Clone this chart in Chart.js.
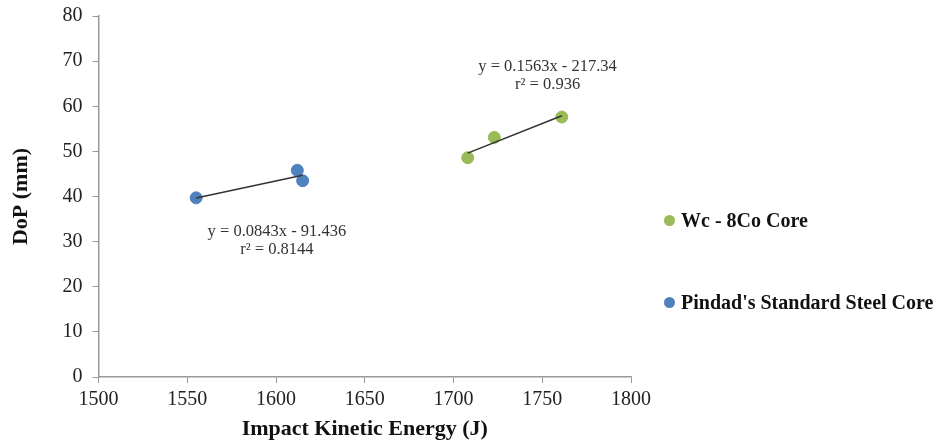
<!DOCTYPE html>
<html>
<head>
<meta charset="utf-8">
<script src="https://cdn.jsdelivr.net/npm/chart.js@4.4.1/dist/chart.umd.min.js"></script>
<style>
    body { margin: 0; background: #fff; }
    #wrap { position: relative; width: 941px; height: 445px; }
    #legenda { position: absolute; left: 664px; top: 0; font-family: "Liberation Serif", serif; font-weight: bold; font-size: 20px; color: #111; }
    #legenda div { position: absolute; white-space: nowrap; display: flex; align-items: center; }
    #legenda span.ponto { display: inline-block; width: 11px; height: 11px; border-radius: 50%; margin-right: 6px; }
</style>
</head>
<body>
<div id="wrap">
    <canvas id="graficoDoP" width="941" height="445"></canvas>
    <div id="legenda"></div>
</div>
<script>
// Dados
const energiaWc = [1708, 1723, 1761];
const dopWc = [48.6, 53.1, 57.6];
const energiaAco = [1555, 1612, 1615];
const dopAco = [39.7, 45.8, 43.5];

// Linhas de tendência (inclinação, intercepto) e textos
const tendenciaWc = [0.1563, -217.34];
const tendenciaAco = [0.0843, -91.436];
const textoWc = ["y = 0.1563x - 217.34", "r² = 0.936"];
const textoAco = ["y = 0.0843x - 91.436", "r² = 0.8144"];
const posTextoWc = [1753, 68.8];
const posTextoAco = [1600.5, 32.3];

const nomes = ["Wc - 8Co Core", "Pindad's Standard Steel Core"];
const cores = ["#9BBB59", "#4F81BD"];

const ticksX = [1500, 1550, 1600, 1650, 1700, 1750, 1800];

function pontos(xs, ys) {
    return xs.map((x, i) => ({ x: x, y: ys[i] }));
}

// Reta de tendência entre o menor e o maior x da série
function linhaTendencia(xs, coef) {
    const xMin = Math.min(...xs), xMax = Math.max(...xs);
    return [xMin, xMax].map(x => ({ x: x, y: coef[0] * x + coef[1] }));
}

const fonteSerif = "'Liberation Serif', 'Times New Roman', serif";

// Plugin para escrever as equações
const pluginEquacoes = {
    id: "equacoes",
    afterDatasetsDraw(chart) {
        const ctx = chart.ctx;
        const sx = chart.scales.x, sy = chart.scales.y;
        ctx.save();
        ctx.font = "16.5px " + fonteSerif;
        ctx.fillStyle = "#333";
        ctx.textAlign = "center";
        ctx.textBaseline = "middle";
        [[textoWc, posTextoWc], [textoAco, posTextoAco]].forEach(([linhas, pos]) => {
            const px = sx.getPixelForValue(pos[0]);
            const py = sy.getPixelForValue(pos[1]);
            ctx.fillText(linhas[0], px, py);
            ctx.fillText(linhas[1], px, py + 18);
        });
        ctx.restore();
    }
};

const ctx = document.getElementById("graficoDoP").getContext("2d");

window.graficoDoP = new Chart(ctx, {
    type: "scatter",
    data: {
        datasets: [
            {
                label: nomes[0],
                data: pontos(energiaWc, dopWc),
                backgroundColor: cores[0],
                borderColor: cores[0],
                pointRadius: 6,
                order: 2,
            },
            {
                label: nomes[1],
                data: pontos(energiaAco, dopAco),
                backgroundColor: cores[1],
                borderColor: cores[1],
                pointRadius: 6,
                order: 2,
            },
            {
                label: "tendWc",
                type: "line",
                data: linhaTendencia(energiaWc, tendenciaWc),
                borderColor: "#333",
                borderWidth: 1.5,
                pointRadius: 0,
                order: 1,
            },
            {
                label: "tendAco",
                type: "line",
                data: linhaTendencia(energiaAco, tendenciaAco),
                borderColor: "#333",
                borderWidth: 1.5,
                pointRadius: 0,
                order: 1,
            },
        ],
    },
    options: {
        responsive: false,
        animation: false,
        layout: { padding: { left: 8, right: 310, top: 16, bottom: 2 } },
        plugins: {
            legend: { display: false },
            tooltip: { enabled: false },
        },
        scales: {
            x: {
                type: "linear",
                min: 1500,
                max: 1800,
                afterBuildTicks: scale => { scale.ticks = ticksX.map(v => ({ value: v })); },
                afterFit: scale => { scale.height = 66; },
                grid: { drawOnChartArea: false, drawTicks: true, tickLength: 6, color: "#999" },
                border: { color: "#999", width: 1.5 },
                ticks: { font: { family: fonteSerif, size: 20 }, color: "#222", padding: 5, callback: v => String(v) },
                title: { display: true, text: "Impact Kinetic Energy (J)", font: { family: fonteSerif, size: 22, weight: "bold" }, color: "#111", padding: 0 },
            },
            y: {
                min: 0,
                max: 80,
                afterFit: scale => {
                    scale.width = 90.5;
                    scale.paddingTop = 0;
                    scale.paddingBottom = 0;
                },
                ticks: { stepSize: 10, font: { family: fonteSerif, size: 20 }, color: "#222", padding: 10 },
                grid: { drawOnChartArea: false, drawTicks: true, tickLength: 6, color: "#999" },
                border: { color: "#999", width: 1.5 },
                title: { display: true, text: "DoP (mm)", font: { family: fonteSerif, size: 22, weight: "bold" }, color: "#111", padding: 0 },
            },
        },
    },
    plugins: [pluginEquacoes],
});

// Legenda em HTML
const legenda = document.getElementById("legenda");
const topos = [209, 291];
nomes.forEach((nome, i) => {
    const item = document.createElement("div");
    item.style.top = topos[i] + "px";
    item.innerHTML = `<span class="ponto" style="background:${cores[i]}"></span>${nome}`;
    legenda.appendChild(item);
});
</script>
</body>
</html>
